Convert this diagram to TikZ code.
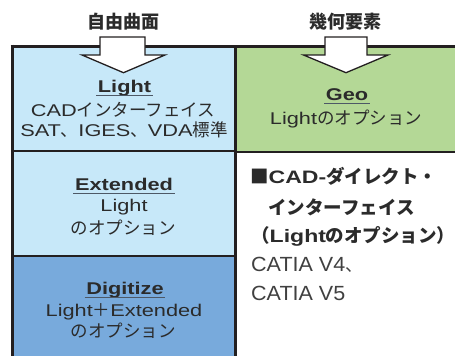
\documentclass[tikz,border=0pt]{standalone}
\usepackage{fontspec}
\setmainfont{Liberation Sans}
\newfontfamily\jp{Noto Sans CJK JP}
\newfontfamily\lw{Liberation Sans}[FakeStretch=1.28]
\newfontfamily\lv{Liberation Sans}[FakeStretch=1.05]
\definecolor{lb}{HTML}{C7E8F9}
\definecolor{gr}{HTML}{B4D896}
\definecolor{db}{HTML}{78AADC}
\definecolor{txt}{HTML}{2B2B2B}
\definecolor{ul}{HTML}{4D5866}
\definecolor{bd}{HTML}{231F20}
\newcommand\J[1]{{\jp\fontsize{17.5}{17.5}\selectfont#1}}
\newcommand\JB[1]{{\jp\bfseries\fontsize{18.5}{18.5}\selectfont#1}}
\tikzset{
  ttl/.style={anchor=base, inner xsep=1.5pt, inner ysep=0pt, text=txt, font=\lw\bfseries\fontsize{17}{17}\selectfont},
  lbl/.style={anchor=base, inner sep=0pt, text=txt, font=\lw\fontsize{17}{17}\selectfont},
  hdr/.style={anchor=base, inner sep=0pt, text=txt, font=\jp\bfseries\fontsize{18}{18}\selectfont},
  rbold/.style={anchor=base west, inner sep=0pt, text=txt, font=\lw\bfseries\fontsize{18}{18}\selectfont},
  rreg/.style={anchor=base west, inner sep=0pt, text=txt!90, font=\lv\fontsize{20.5}{20.5}\selectfont},
  uline/.style={draw=ul, line width=1.4pt},
  arr/.style={fill=white, draw=bd, line width=1.3pt, line join=miter},
  thick border/.style={draw=bd, line width=3.3pt},
  thin border/.style={draw=bd, line width=1.6pt}
}
\begin{document}
\begin{tikzpicture}[x=1pt, y=-1pt]
\useasboundingbox (0,0) rectangle (455,356);
% backgrounds
\fill[lb] (12,46) rectangle (235,151);
\fill[lb] (12,151) rectangle (235,256);
\fill[db] (12,256) rectangle (235,356);
\fill[gr] (235,46) rectangle (455,152);
% lines
\draw[thin border] (12,151) -- (235,151);
\draw[thin border] (12,256) -- (235,256);
\draw[draw=bd, line width=2.6pt] (235,152) -- (455,152);
\draw[draw=bd, line width=3pt] (235,46) -- (235,356);
\draw[thick border] (12.4,44.6) -- (12.4,356);
\draw[draw=bd, line width=3.5pt] (10.7,46.5) -- (455,46.5);
% arrows
\draw[arr] (100,37) -- (145,37) -- (145,55) -- (165,55) -- (123.5,72.7) -- (82,55) -- (100,55) -- cycle;
\draw[arr] (325,37) -- (367,37) -- (367,55) -- (388,55) -- (346,72.7) -- (303.5,55) -- (325,55) -- cycle;
% headers
\node[hdr] (h1) at (123,28.5) {自由曲面};
\node[hdr] (h2) at (345,28.5) {幾何要素};
% Light
\node[ttl] (tLight) at (124.5,92) {Light};
\node[lbl] (l1) at (123,116) {CAD\J{インターフェイス}};
\node[lbl] (l2) at (124,136.5) {SAT\J{、}IGES\J{、}VDA\J{標準}};
% Geo
\node[ttl] (tGeo) at (347,100) {Geo};
\node[lbl] (g1) at (346,124) {Light\J{のオプション}};
% Extended
\node[ttl] (tExt) at (124,190) {Extended};
\node[lbl] (e1) at (124,211.5) {Light};
\node[lbl] (e2) at (123,234) {\J{のオプション}};
% Digitize
\node[ttl] (tDig) at (125,294) {Digitize};
\node[lbl] (d1) at (124,316.5) {Light\J{＋}Extended};
\node[lbl] (d2) at (123,337) {\J{のオプション}};
% underlines
\foreach \n in {tLight,tGeo,tExt,tDig}
  \draw[uline] ([yshift=-3.5pt]\n.base west) -- ([yshift=-3.5pt]\n.base east);
% right box
\node[rbold] (r1) at (250,183) {\JB{■}CAD-\JB{ダイレクト・}};
\node[rbold] (r2) at (268,214) {\JB{インターフェイス}};
\node[rbold] (r3) at (251,242) {\JB{（}Light\JB{のオプション）}};
\node[rreg] (r4) at (251,271.5) {CATIA V4\J{、}};
\node[rreg] (r5) at (251,300) {CATIA V5};
\end{tikzpicture}
\end{document}
